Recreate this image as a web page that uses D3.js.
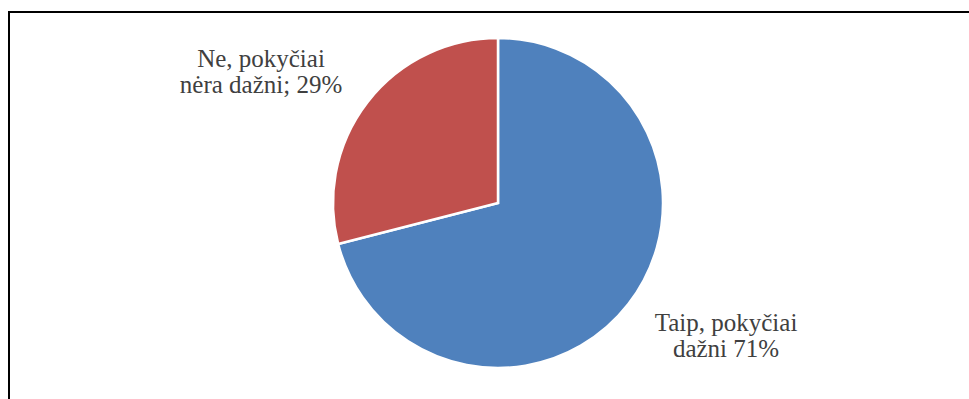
<!DOCTYPE html>
<html>
<head>
<meta charset="utf-8">
<script src="https://cdn.jsdelivr.net/npm/d3@7"></script>
<style>
  html, body { margin: 0; padding: 0; background: #fff; }
  svg { display: block; }
</style>
</head>
<body>
<svg id="chart" width="969" height="399"></svg>
<script>
// Survey answers: are changes frequent?
const categories = ["Taip, pokyčiai dažni", "Ne, pokyčiai nėra dažni"];
const values = [71, 29];
const colors = ["#4F81BD", "#C0504D"];
// Label lines for each slice (value appended from the data)
const labelLines = [
  ["Taip, pokyčiai", "dažni " + values[0] + "%"],
  ["Ne, pokyčiai", "nėra dažni; " + values[1] + "%"]
];
const labelPos = [[726, 331], [261, 67]];

const svg = d3.select("#chart")
  .style("font-family", '"Liberation Serif"');

// chart frame (top and left edges visible)
svg.append("path")
  .attr("d", "M9,399 V12 H969")
  .attr("fill", "none")
  .attr("stroke", "#000")
  .attr("stroke-width", 2);

const cx = 498, cy = 203, r = 165;

const pie = d3.pie().sort(null).value(d => d.value);
const arc = d3.arc().innerRadius(0).outerRadius(r);
const data = categories.map((c, i) => ({ name: c, value: values[i], color: colors[i] }));

const g = svg.append("g").attr("transform", `translate(${cx},${cy})`);
g.selectAll("path")
  .data(pie(data))
  .join("path")
  .attr("d", arc)
  .attr("fill", d => d.data.color)
  .attr("stroke", "#fff")
  .attr("stroke-width", 2.5);

// data labels
labelLines.forEach((lines, i) => {
  const t = svg.append("text")
    .attr("x", labelPos[i][0])
    .attr("y", labelPos[i][1])
    .attr("text-anchor", "middle")
    .style("font-family", '"Liberation Serif"')
    .style("font-size", "25px")
    .style("fill", "#404040");
  lines.forEach((line, k) => {
    t.append("tspan")
      .attr("x", labelPos[i][0])
      .attr("dy", k === 0 ? 0 : 26)
      .style("font-family", '"Liberation Serif"')
      .text(line);
  });
});
</script>
</body>
</html>
